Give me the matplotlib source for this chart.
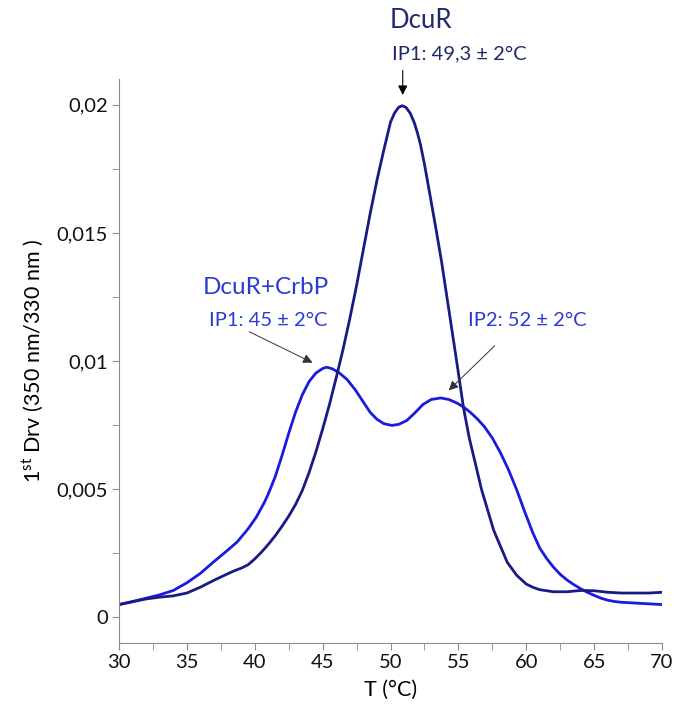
import matplotlib
matplotlib.use("Agg")
import matplotlib.pyplot as plt
from matplotlib.ticker import MultipleLocator, FuncFormatter

plt.rcParams['font.family'] = ['Lato', 'DejaVu Sans']
plt.rcParams['mathtext.fontset'] = 'custom'
plt.rcParams['mathtext.rm'] = 'Lato'

# DcuR alone (dark navy curve)
t_dcur = [30.0, 31.0, 32.0, 33.0, 34.0, 35.0, 36.0, 37.0, 38.0, 38.5, 39.0, 39.5,
          40.0, 40.5, 41.0, 41.5, 42.0, 42.5, 43.0, 43.5, 44.0, 44.5, 45.0, 45.5,
          46.0, 46.5, 47.0, 47.5, 48.0, 48.5, 49.0, 49.5, 50.0, 50.3, 50.6, 50.87,
          51.15, 51.45, 51.75, 52.0, 52.2, 52.5, 52.9, 53.35, 53.77, 54.14, 54.51,
          54.88, 55.37, 55.8, 56.23, 56.7, 57.2, 57.6, 58.07, 58.6, 59.3, 60.0,
          60.5, 61.0, 62.0, 63.0, 64.0, 65.0, 66.0, 67.0, 68.0, 69.0, 70.0]
d_dcur = [0.00050, 0.00061, 0.00072, 0.00079, 0.00084, 0.00095, 0.00118, 0.00145,
          0.00170, 0.00182, 0.00192, 0.00205, 0.00228, 0.00255, 0.00285, 0.00318,
          0.00355, 0.00395, 0.00440, 0.00495, 0.00565, 0.00645, 0.00735, 0.00830,
          0.00935, 0.01045, 0.01165, 0.01295, 0.01435, 0.01575, 0.01705, 0.01822,
          0.01932, 0.01968, 0.01990, 0.01996, 0.01989, 0.01967, 0.01930, 0.01887,
          0.01846, 0.01768, 0.01650, 0.01515, 0.01385, 0.01255, 0.01126, 0.00996,
          0.00820, 0.00700, 0.00605, 0.00500, 0.00411, 0.00340, 0.00281, 0.00215,
          0.00164, 0.00130, 0.00117, 0.00108, 0.00100, 0.00100, 0.00105, 0.00104,
          0.00098, 0.00095, 0.00095, 0.00095, 0.00098]

# DcuR + CrbP (bright blue curve)
t_mix = [30.0, 31.0, 32.0, 33.0, 34.0, 35.0, 36.0, 37.0, 38.0, 38.7, 39.5, 40.1,
         40.7, 41.0, 41.5, 42.0, 42.5, 43.0, 43.5, 44.0, 44.5, 45.0, 45.3, 45.7,
         46.2, 46.8, 47.4, 48.0, 48.5, 49.0, 49.5, 50.1, 50.6, 51.2, 51.8, 52.4,
         53.0, 53.7, 54.3, 54.9, 55.4, 55.9, 56.4, 56.9, 57.5, 58.1, 58.7, 59.3,
         59.9, 60.5, 61.0, 61.5, 62.0, 62.5, 63.0, 63.5, 64.0, 64.5, 65.0, 65.5,
         66.0, 66.5, 67.0, 68.0, 69.0, 70.0]
d_mix = [0.00050, 0.00062, 0.00075, 0.00088, 0.00105, 0.00135, 0.00172, 0.00218,
         0.00262, 0.00294, 0.00345, 0.00390, 0.00448, 0.00482, 0.00548, 0.00630,
         0.00718, 0.00800, 0.00868, 0.00920, 0.00953, 0.00971, 0.00976, 0.00970,
         0.00955, 0.00928, 0.00888, 0.00840, 0.00800, 0.00773, 0.00756, 0.00749,
         0.00753, 0.00768, 0.00798, 0.00831, 0.00850, 0.00856, 0.00850, 0.00836,
         0.00820, 0.00799, 0.00774, 0.00745, 0.00700, 0.00642, 0.00575, 0.00497,
         0.00410, 0.00328, 0.00270, 0.00230, 0.00196, 0.00168, 0.00146, 0.00128,
         0.00112, 0.00098, 0.00086, 0.00075, 0.00067, 0.00062, 0.00059, 0.00056,
         0.00053, 0.00050]

navy = '#1a1a85'
blue = '#1a1ae0'

fig = plt.figure(figsize=(6.74, 7.06), dpi=100)
ax = fig.add_axes([0.1766, 0.0892, 0.8056, 0.7988])

ax.plot(t_mix, d_mix, color=blue, lw=2.0, solid_joinstyle='round')
ax.plot(t_dcur, d_dcur, color=navy, lw=2.0, solid_joinstyle='round')

ax.set_xlim(30, 70)
ax.set_ylim(-0.001, 0.021)
ax.xaxis.set_major_locator(MultipleLocator(5))
ax.xaxis.set_minor_locator(MultipleLocator(2.5))
ax.yaxis.set_major_locator(MultipleLocator(0.005))
ax.yaxis.set_minor_locator(MultipleLocator(0.0025))
ax.yaxis.set_major_formatter(FuncFormatter(lambda v, p: f"{v:g}".replace('.', ',')))

for s in ['top', 'right']:
    ax.spines[s].set_visible(False)
for s in ['left', 'bottom']:
    ax.spines[s].set_color('#8c8c8c')
ax.tick_params(which='both', color='#8c8c8c', length=5, labelsize=14.5,
               labelcolor='#111111', pad=3)

ax.set_xlabel('T (°C)', fontsize=15.5, labelpad=6)
ax.set_ylabel(r'1$\mathrm{^{st}}$ Drv (350 nm/330 nm )', fontsize=15.5, labelpad=8)

txt_navy = '#1f2a6b'
txt_blue = '#2a3ccf'
ax.text(52.25, 0.02328, 'DcuR', color=txt_navy, fontsize=18.5, ha='center', va='center', clip_on=False)
ax.text(55.1, 0.02199, 'IP1: 49,3 ± 2°C', color=txt_navy, fontsize=14.5, ha='center', va='center', clip_on=False)
ax.annotate('', xy=(50.9, 0.02027), xytext=(50.9, 0.02144), annotation_clip=False,
            arrowprops=dict(arrowstyle='-|>', color='black', lw=0.8, mutation_scale=14))

ax.text(40.85, 0.01287, 'DcuR+CrbP', color=txt_blue, fontsize=17.5, ha='center', va='center')
ax.text(40.98, 0.01158, 'IP1: 45 ± 2°C', color=txt_blue, fontsize=14.5, ha='center', va='center')
ax.annotate('', xy=(44.44, 0.00989), xytext=(39.41, 0.01119),
            arrowprops=dict(arrowstyle='-|>', color='#333333', lw=0.7, mutation_scale=14))

ax.text(60.06, 0.01158, 'IP2: 52 ± 2°C', color=txt_blue, fontsize=14.5, ha='center', va='center')
ax.annotate('', xy=(54.14, 0.00878), xytext=(57.82, 0.01067),
            arrowprops=dict(arrowstyle='-|>', color='#333333', lw=0.7, mutation_scale=14))

fig.savefig('out.png', dpi=100)
